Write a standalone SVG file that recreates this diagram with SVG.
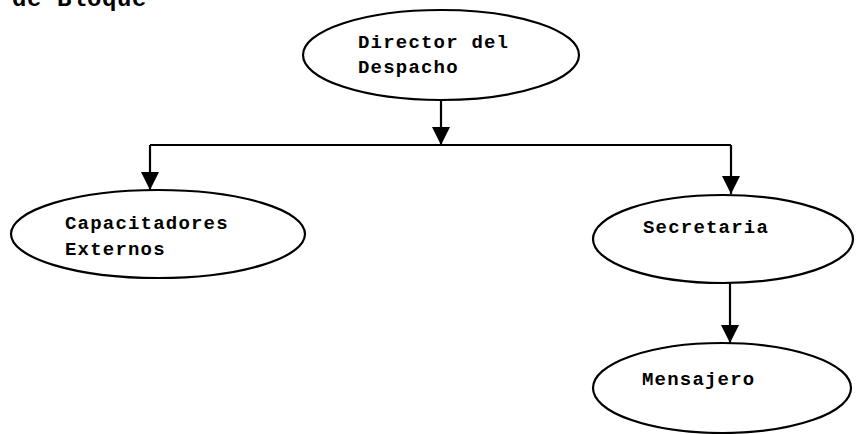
<svg xmlns="http://www.w3.org/2000/svg" width="858" height="434" viewBox="0 0 858 434">
<style>
.node ellipse{fill:#fff;stroke:#000;stroke-width:2.2}
.lbl{font-family:"Liberation Mono","Courier New",monospace;font-weight:bold;font-size:19px;letter-spacing:1.2px;fill:#000}
.title{font-family:"Liberation Mono","Courier New",monospace;font-weight:bold;font-size:24px;letter-spacing:0.6px;fill:#000}
.conn{fill:none;stroke:#000;stroke-width:2.2}
</style>
<defs>
<marker id="ah" markerUnits="userSpaceOnUse" markerWidth="20" markerHeight="18" refX="18" refY="9" orient="auto">
<path d="M0,0 L18,9 L0,18 Z" fill="#000"/>
</marker>
</defs>
<rect width="858" height="434" fill="#fff"/>
<text class="title" x="12" y="6">de Bloque</text>
<g id="connectors">
<path class="conn" d="M441,100 V145" marker-end="url(#ah)"/>
<path class="conn" d="M150,145 H731"/>
<path class="conn" d="M150,145 V190" marker-end="url(#ah)"/>
<path class="conn" d="M731,145 V194" marker-end="url(#ah)"/>
<path class="conn" d="M730,283 V343" marker-end="url(#ah)"/>
</g>
<g id="director" class="node">
<ellipse cx="441" cy="55" rx="138" ry="45"/>
<text class="lbl" x="358" y="48">Director del</text>
<text class="lbl" x="358" y="73">Despacho</text>
</g>
<g id="capacitadores" class="node">
<ellipse cx="158" cy="234" rx="147" ry="44"/>
<text class="lbl" x="65" y="229">Capacitadores</text>
<text class="lbl" x="65" y="255">Externos</text>
</g>
<g id="secretaria" class="node">
<ellipse cx="723" cy="239" rx="130" ry="44"/>
<text class="lbl" x="643" y="233">Secretaria</text>
</g>
<g id="mensajero" class="node">
<ellipse cx="722" cy="388" rx="129" ry="45"/>
<text class="lbl" x="642" y="385">Mensajero</text>
</g>
</svg>
